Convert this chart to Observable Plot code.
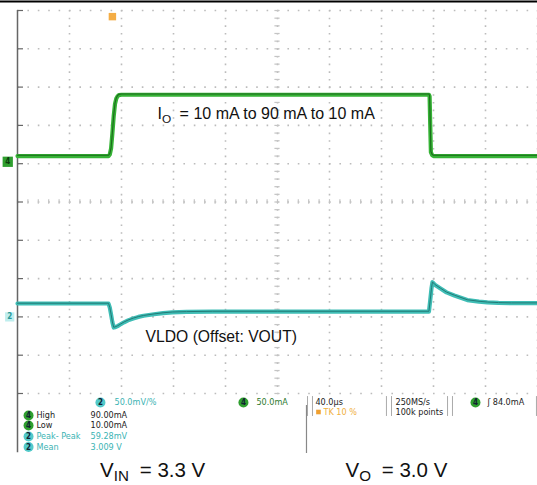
<!DOCTYPE html>
<html><head><meta charset="utf-8">
<script src="https://cdn.jsdelivr.net/npm/d3@7"></script>
<script src="https://cdn.jsdelivr.net/npm/@observablehq/plot@0.6"></script>
<style>html,body{margin:0;padding:0;background:#fff;} svg{display:block}</style>
</head><body><div id="chart"></div>
<script>
// Horizontal: time in µs from the left edge of the screen (40 µs/div, 10 div)
// Vertical: screen divisions (-5 .. 5)
// Channel 4: load current (mA), 50 mA/div, offset +1 div
const tCurrent = [0, 70, 71, 72, 73, 74, 75, 76, 77, 78, 80, 316.5, 317, 317.5, 318, 319, 320, 400];
const iCurrent = [10, 10, 12, 20, 40, 62, 78, 85, 88, 89.5, 90, 90, 88, 50, 15, 11, 10, 10];
// Channel 2: VLDO deviation (mV), 50 mV/div, offset -3 div
const tVout = [0, 70, 71, 72, 73, 74, 75, 77, 79, 82, 85, 89, 93, 97, 105, 112, 119, 130, 150, 200, 316.5, 317.5, 318.5, 319.2, 321, 325.4, 330, 336, 346, 355, 361.5, 370, 380, 400];
const vVout = [17.5, 17.5, 12, 3, -7, -13.9, -13.5, -12, -10, -7, -4.5, -2, 0, 1.5, 3.5, 5, 6, 6.5, 7, 7, 7, 22, 38, 45.3, 42, 37, 32, 28, 22, 20, 19, 18.3, 17.9, 17.9];

const ch4 = {offset: 1, scale: 50, color: "#36b336", dark: "#1d6b1d", badge: "#2f9f2f"};
const ch2 = {offset: -3, scale: 50, color: "#3fbdb5", dark: "#237a76", badge: "#52c9c9"};

// Annotation texts
const annText = ["I_O = 10 mA to 90 mA to 10 mA", "VLDO (Offset: VOUT)", "V_IN = 3.3 V", "V_O = 3.0 V"];
const annX = [107.7, 98.5, 63.5, 252.3];
const annY = [2.29, -3.535, -7.0, -7.0];
const annSize = [16, 15.7, 20.5, 20.5];

// Scope readout panel
const measBadge = ["4", "4", "2", "2"];
const measName = ["High", "Low", "Peak- Peak", "Mean"];
const measValue = ["90.00mA", "10.00mA", "59.28mV", "3.009 V"];
const measY = [-5.574, -5.836, -6.123, -6.397];
const headText = ["50.0mV/%", "50.0mA", "40.0µs", "250MS/s", "100k points", "ʃ 84.0mA"];
const headX = [74.6, 183.8, 229.2, 290.8, 290.8, 361.5];
const headY = [-5.235, -5.235, -5.235, -5.235, -5.483, -5.235];
const headColor = ["#3ab3b3", "#2f7a2f", "#222", "#222", "#222", "#222"];
const headBadgeX = [63.8, 173.8, 352.3];
const headBadgeCh = ["2", "4", "4"];
const bracketX = [223.1, 226.9, 283.8, 287.7, 330.8, 334.6, 399.2];

const chOf = c => (c === "4" ? ch4 : ch2);
const currentRows = tCurrent.map((t, k) => ({t, y: ch4.offset + iCurrent[k] / ch4.scale}));
const voutRows = tVout.map((t, k) => ({t, y: ch2.offset + vVout[k] / ch2.scale}));

const xMajor = d3.range(40, 401, 40);
const yMajor = d3.range(-5, 5.01, 1);
const xMinor = d3.range(0, 400.01, 8);
const yMinor = d3.range(-5, 5.01, 0.2);

const scopeFont = "DejaVu Sans Condensed, DejaVu Sans, sans-serif";
const gridStyle = {stroke: "#bcbcbc", strokeWidth: 1.6};

const plot = Plot.plot({
  width: 537, height: 485,
  marginLeft: 17, marginRight: 0, marginTop: 10, marginBottom: 92,
  x: {domain: [0, 400], axis: null},
  y: {domain: [-5, 5], axis: null},
  color: {type: "identity"},
  style: {background: "#fff", overflow: "visible", fontFamily: "Liberation Sans, Arial, sans-serif"},
  marks: [
    // dotted graticule
    Plot.ruleX(xMajor, {...gridStyle, strokeDasharray: "1.6,6.06"}),
    Plot.ruleY(yMajor, {...gridStyle, strokeDasharray: "1.6,8.8"}),
    // center-line minor ticks
    Plot.ruleX(xMinor, {y1: -0.06, y2: 0.06, stroke: "#c4c4c4", strokeWidth: 1.2}),
    Plot.ruleY(yMinor, {x1: 198, x2: 202, stroke: "#c4c4c4", strokeWidth: 1.2}),
    // left edge with major ticks
    Plot.ruleX([0], {y1: -6.55, y2: 5, stroke: "#666", strokeWidth: 1.5}),
    Plot.ruleY(yMajor, {x1: 0, x2: 4.6, stroke: "#666", strokeWidth: 1.2}),
    // top border line
    Plot.ruleY([5.235], {x1: -13.1, x2: 400, stroke: "#000", strokeWidth: 2}),
    // traces
    Plot.line(currentRows, {x: "t", y: "y", stroke: ch4.color, strokeWidth: 4.2}),
    Plot.line(currentRows, {x: "t", y: "y", stroke: ch4.dark, strokeWidth: 1.1, dy: -0.8}),
    Plot.line(voutRows, {x: "t", y: "y", stroke: ch2.color, strokeWidth: 4.2}),
    Plot.line(voutRows, {x: "t", y: "y", stroke: ch2.dark, strokeWidth: 1, dy: -0.3}),
    // channel ground markers
    Plot.dot([{x: -7.5, y: ch4.offset + 0.05}], {x: "x", y: "y", symbol: "square", r: 5.8, fill: ch4.badge}),
    Plot.text([{x: -7.5, y: ch4.offset + 0.05}], {x: "x", y: "y", text: () => "4", fill: "#0d3d0d", fontSize: 8, fontWeight: "bold", fontFamily: scopeFont}),
    Plot.dot([{x: -6, y: ch2.offset}], {x: "x", y: "y", symbol: "square", r: 5.2, fill: "#bfeeee"}),
    Plot.text([{x: -6, y: ch2.offset}], {x: "x", y: "y", text: () => "2", fill: "#2a9a9a", fontSize: 8, fontWeight: "bold", fontFamily: scopeFont}),
    // trigger position marker
    Plot.dot([{x: 73, y: 4.84}], {x: "x", y: "y", symbol: "square", r: 4.2, fill: "#f4ad45"}),
    // annotations
    Plot.text(annText, {x: (d, k) => annX[k], y: (d, k) => annY[k], text: d => d, fontSize: (d, k) => annSize[k], textAnchor: "start", fill: "#111"}),
    // readout: header badges and texts
    Plot.dot(headBadgeX, {x: d => d, y: () => -5.235, r: 5, fill: (d, k) => chOf(headBadgeCh[k]).badge}),
    Plot.text(headBadgeX, {x: d => d, y: () => -5.235, text: (d, k) => headBadgeCh[k], fill: "#123", fontSize: 8, fontWeight: "bold", fontFamily: scopeFont}),
    Plot.text(headText, {x: (d, k) => headX[k], y: (d, k) => headY[k], text: d => d, fill: (d, k) => headColor[k], fontSize: 9, textAnchor: "start", fontFamily: scopeFont}),
    Plot.dot([{x: 231.5, y: -5.483}], {x: "x", y: "y", symbol: "square", r: 2.6, fill: "#f0a030"}),
    Plot.text(["TK 10 %"], {x: () => 235.4, y: () => -5.483, text: d => d, fill: "#f0b040", fontSize: 9, textAnchor: "start", fontFamily: scopeFont}),
    // readout brackets and separator
    Plot.ruleX(bracketX, {y1: -5.08, y2: -5.6, stroke: "#aaa", strokeWidth: 1}),
    Plot.ruleX([222.3], {y1: -5.313, y2: -6.567, stroke: "#888", strokeWidth: 1.2}),
    // readout: measurements
    Plot.dot(measBadge, {x: () => 8.5, y: (d, k) => measY[k], r: 5, fill: d => chOf(d).badge}),
    Plot.text(measBadge, {x: () => 8.5, y: (d, k) => measY[k], text: d => d, fill: "#123", fontSize: 8, fontWeight: "bold", fontFamily: scopeFont}),
    Plot.text(measName, {x: () => 14.6, y: (d, k) => measY[k], text: d => d, fill: (d, k) => measBadge[k] === "4" ? "#222" : "#3ab3b3", fontSize: 9, textAnchor: "start", fontFamily: scopeFont}),
    Plot.text(measValue, {x: () => 56.2, y: (d, k) => measY[k], text: d => d, fill: (d, k) => measBadge[k] === "4" ? "#222" : "#3ab3b3", fontSize: 9, textAnchor: "start", fontFamily: scopeFont})
  ]
});

// turn "A_B rest" into A with subscript B
d3.select(plot).selectAll("text").each(function() {
  const s = this.textContent;
  const m = /^(\S)_(\S+)(.*)$/.exec(s);
  if (!m) return;
  const fs = parseFloat(this.getAttribute("font-size")) || 16;
  const el = d3.select(this);
  el.text(null);
  el.append("tspan").text(m[1]);
  el.append("tspan").attr("font-size", fs * 0.74).attr("dy", fs * 0.2).text(m[2]);
  el.append("tspan").attr("dy", -fs * 0.2).attr("dx", fs * 0.25).text(m[3]);
});

document.getElementById("chart").appendChild(plot);
</script>
</body></html>
